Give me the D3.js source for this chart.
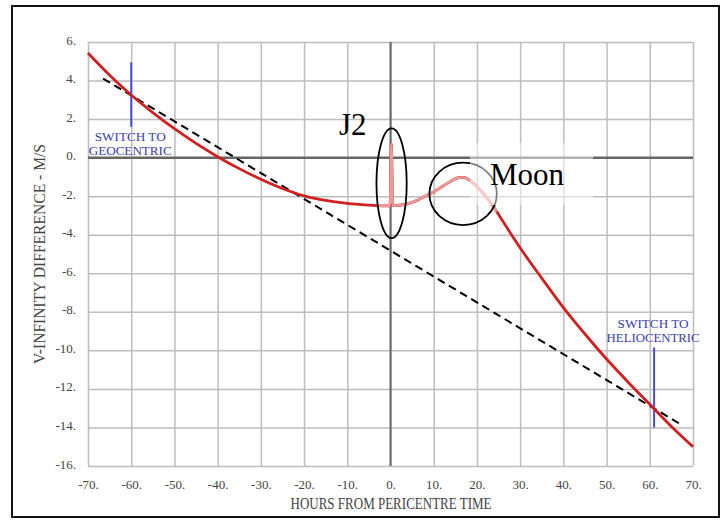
<!DOCTYPE html>
<html>
<head>
<meta charset="utf-8">
<script src="https://cdn.jsdelivr.net/npm/d3@7/dist/d3.min.js"></script>
<style>
  body { margin: 0; background: #fff; }
  svg { display: block; }
</style>
</head>
<body>
<svg id="chart" width="722" height="520"></svg>
<script>
// red curve: v-infinity difference vs hours from pericentre
const hours = [-70, -65, -60, -55, -50, -45, -40, -35, -30, -25, -20, -15, -10, -5, -2, -0.1, 0.2, 0.5,
  2, 5, 8, 10, 12, 14, 16, 17, 18, 20, 22, 24, 26, 28, 30, 32.5, 35, 40, 45, 50, 55, 60, 65, 70];
const vInf = [5.43, 4.28, 3.25, 2.34, 1.5, 0.74, 0.05, -0.57, -1.12, -1.6, -1.98, -2.22, -2.37, -2.46, -2.5, -2.5, 0.7, -2.48,
  -2.47, -2.32, -2.0, -1.78, -1.5, -1.22, -1.03, -1.03, -1.12, -1.5, -2.0, -2.6, -3.3, -4.0, -4.68, -5.48, -6.25, -7.78, -9.15, -10.45, -11.65, -12.8, -13.95, -15.0];

// dashed straight line
const trendHours = [-66.5, 67.6];
const trendVals = [4.1, -13.9];

// frame switch markers
const switchHours = [-60, 61];
const switchTop = [4.95, -9.85];
const switchBottom = [1.6, -14.0];
const switchLabels = [['SWITCH TO', 'GEOCENTRIC'], ['SWITCH TO', 'HELIOCENTRIC']];

const xTicks = [-70, -60, -50, -40, -30, -20, -10, 0, 10, 20, 30, 40, 50, 60, 70];
const yTicks = [6, 4, 2, 0, -2, -4, -6, -8, -10, -12, -14, -16];

const svg = d3.select('#chart');
const plotL = 88, plotR = 693, plotT = 42, plotB = 466;
const serif = '"Liberation Serif", "DejaVu Serif", serif';

const x = d3.scaleLinear().domain([-70, 70]).range([plotL, plotR]);
const y = d3.scaleLinear().domain([-16, 6]).range([plotB, plotT]);

// outer frame
svg.append('rect')
  .attr('x', 12).attr('y', 6).attr('width', 707).attr('height', 511)
  .attr('fill', 'none').attr('stroke', '#111').attr('stroke-width', 2);

// grid + tick labels
const gx = svg.append('g')
  .attr('transform', `translate(0,${plotB})`)
  .call(d3.axisBottom(x).tickValues(xTicks).tickSize(-(plotB - plotT)).tickFormat(d => d + '.'));
const gy = svg.append('g')
  .attr('transform', `translate(${plotL},0)`)
  .call(d3.axisLeft(y).tickValues(yTicks).tickSize(-(plotR - plotL)).tickFormat(d => d + '.'));

[gx, gy].forEach(g => {
  g.attr('font-family', serif);
  g.select('.domain').remove();
  g.selectAll('.tick line').attr('stroke', '#bdbdbd').attr('stroke-width', 1.5);
  g.selectAll('.tick text')
    .attr('fill', '#444')
    .style('font-family', serif)
    .style('font-size', '13px');
});
gx.selectAll('.tick text').attr('y', 23).attr('dy', 0);
gy.selectAll('.tick text').attr('x', -12).attr('dy', 0).attr('y', 2);

// zero lines
svg.append('line')
  .attr('x1', x(-70)).attr('x2', x(70)).attr('y1', y(0)).attr('y2', y(0))
  .attr('stroke', '#666').attr('stroke-width', 2.5);
svg.append('line')
  .attr('x1', x(0)).attr('x2', x(0)).attr('y1', y(6)).attr('y2', y(-16))
  .attr('stroke', '#666').attr('stroke-width', 2);

// axis titles
svg.append('text')
  .attr('x', 391).attr('y', 509)
  .attr('text-anchor', 'middle')
  .attr('textLength', 201).attr('lengthAdjust', 'spacingAndGlyphs')
  .attr('fill', '#444')
  .style('font-family', serif).style('font-size', '16px')
  .text('HOURS FROM PERICENTRE TIME');

svg.append('text')
  .attr('transform', 'translate(45,254) rotate(-90)')
  .attr('text-anchor', 'middle')
  .attr('textLength', 220).attr('lengthAdjust', 'spacingAndGlyphs')
  .attr('fill', '#444')
  .style('font-family', serif).style('font-size', '16px')
  .text('V-INFINITY DIFFERENCE - M/S');

// dashed line
const pts = hours.map((h, i) => [h, vInf[i]]);
const trend = trendHours.map((h, i) => [h, trendVals[i]]);
const line = d3.line().x(d => x(d[0])).y(d => y(d[1]));

svg.append('path')
  .attr('d', line(trend))
  .attr('fill', 'none').attr('stroke', '#000').attr('stroke-width', 2)
  .attr('stroke-dasharray', '8,5');

// switch markers
switchHours.forEach((h, i) => {
  svg.append('line')
    .attr('x1', x(h)).attr('x2', x(h))
    .attr('y1', y(switchTop[i])).attr('y2', y(switchBottom[i]))
    .attr('stroke', '#4b4bdc').attr('stroke-width', 2);
});
const lbl = svg.append('g').attr('fill', '#3c3cb0').style('font-family', serif).style('font-size', '13px');
[[141, 154.5, 71, 83], [328, 341.5, 71, 93]].forEach((m, i) => {
  lbl.append('text').attr('x', x(switchHours[i]) - 1).attr('y', m[0])
    .attr('text-anchor', 'middle').attr('textLength', m[2]).attr('lengthAdjust', 'spacingAndGlyphs')
    .text(switchLabels[i][0]);
  lbl.append('text').attr('x', x(switchHours[i]) - 1).attr('y', m[1])
    .attr('text-anchor', 'middle').attr('textLength', m[3]).attr('lengthAdjust', 'spacingAndGlyphs')
    .text(switchLabels[i][1]);
});

// red curve
const redLine = d3.line().x(d => x(d[0])).y(d => y(d[1])).curve(d3.curveMonotoneX);
svg.append('path')
  .attr('d', redLine(pts))
  .attr('fill', 'none').attr('stroke', '#d02020').attr('stroke-width', 2.8)
  .attr('stroke-linejoin', 'round');

// faded section around J2 / Moon
svg.append('clipPath').attr('id', 'fade')
  .append('rect').attr('x', 377).attr('y', 110).attr('width', 120).attr('height', 102);
svg.append('path')
  .attr('d', redLine(pts))
  .attr('clip-path', 'url(#fade)')
  .attr('fill', 'none').attr('stroke', '#eb9a9a').attr('stroke-width', 2.6)
  .attr('stroke-linejoin', 'round');

// annotations
svg.append('ellipse')
  .attr('cx', x(0.25)).attr('cy', y(-1.33))
  .attr('rx', x(3.5) - x(0)).attr('ry', y(0) - y(2.85))
  .attr('fill', 'none').attr('stroke', '#000').attr('stroke-width', 1.8);
svg.append('ellipse')
  .attr('cx', x(16.8)).attr('cy', y(-1.88))
  .attr('rx', x(7.8) - x(0)).attr('ry', y(0) - y(1.62))
  .attr('fill', 'none').attr('stroke', '#000').attr('stroke-width', 1.8);

svg.append('rect')
  .attr('x', x(18.4)).attr('y', y(0.76))
  .attr('width', x(46.9) - x(18.4)).attr('height', y(-2.46) - y(0.76))
  .attr('fill', '#fff').attr('opacity', 0.5);

svg.append('text')
  .attr('x', 339).attr('y', 135)
  .attr('fill', '#000')
  .style('font-family', serif).style('font-size', '31px')
  .text('J2');
svg.append('text')
  .attr('x', 490).attr('y', 185)
  .attr('fill', '#000')
  .style('font-family', serif).style('font-size', '31px')
  .text('Moon');
</script>
</body>
</html>
